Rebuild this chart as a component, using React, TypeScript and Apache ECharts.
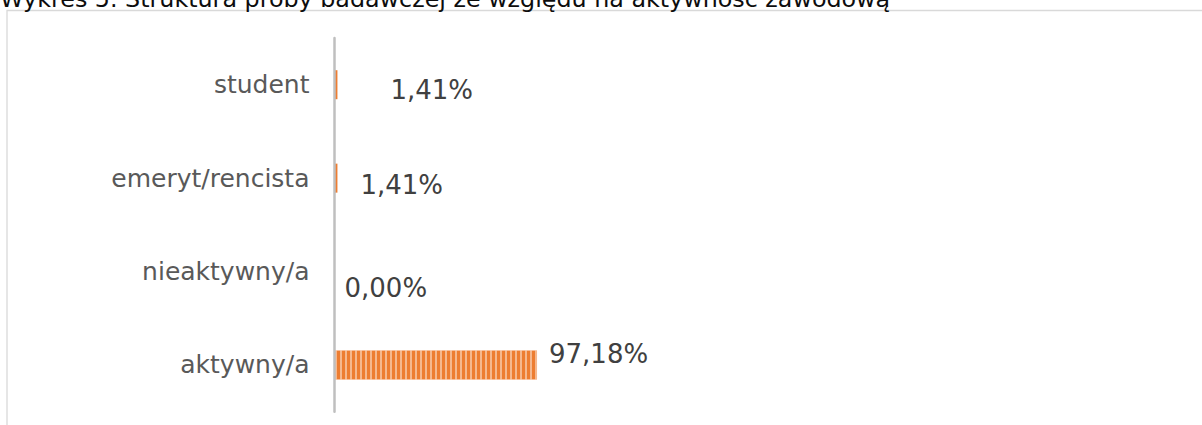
import React, { useEffect, useRef } from "react";
import * as echarts from "echarts";

const TITLE = "Wykres 5. Struktura próby badawczej ze względu na aktywność zawodową";
const categories = ["aktywny/a", "nieaktywny/a", "emeryt/rencista", "student"];
const values = [97.18, 0.0, 1.41, 1.41];
const valueLabels = ["97,18%", "0,00%", "1,41%", "1,41%"];
const labelOffsets: [number, number][] = [
  [7, -11],
  [5, 16],
  [18, 7],
  [48, 5],
];

export default function App() {
  const ref = useRef<HTMLDivElement>(null);
  useEffect(() => {
    if (!ref.current) return;
    const chart = echarts.init(ref.current, undefined, { renderer: "svg" });
    const font = "DejaVu Sans";
    const stripes = {
      symbol: "rect",
      symbolSize: 1,
      color: "rgba(255,255,255,0.45)",
      dashArrayX: [2, 2.3],
      dashArrayY: [10, 0],
      rotation: 0,
    };
    chart.setOption({
      animation: false,
      backgroundColor: "#ffffff",
      graphic: [
        {
          type: "rect",
          shape: { x: 7, y: 10.5, width: 1300, height: 500 },
          style: { fill: "none", stroke: "#d9d9d9", lineWidth: 1.3 },
          z: 0,
        },
        {
          type: "text",
          x: 0,
          y: -1.5,
          style: {
            text: TITLE,
            fontFamily: font,
            fontSize: 23.8,
            fill: "#0d0d0d",
            align: "left",
            verticalAlign: "middle",
          },
          z: 5,
        },
      ],
      grid: { left: 334.5, top: 38, width: 208.4, bottom: 13.3, containLabel: false },
      xAxis: {
        type: "value",
        min: 0,
        max: 100,
        show: false,
      },
      yAxis: {
        type: "category",
        data: categories,
        z: 10,
        axisLine: { show: true, lineStyle: { color: "#bfbfbf", width: 2.5 } },
        axisTick: { show: false },
        axisLabel: {
          margin: 25,
          fontFamily: font,
          fontSize: 25,
          color: "#595959",
        },
        splitLine: { show: false },
      },
      series: [
        {
          type: "bar",
          barWidth: 29,
          data: values.map((v, i) => ({
            value: v,
            itemStyle: v > 5 ? { color: "#ED7D31", decal: stripes } : { color: "#ED7D31" },
            label: {
              show: true,
              position: "right",
              distance: 5,
              offset: labelOffsets[i],
              formatter: valueLabels[i],
              fontFamily: font,
              fontSize: 26,
              color: "#404040",
            },
          })),
          itemStyle: {
            color: "#ED7D31",
          },
        },
      ],
    });
    return () => chart.dispose();
  }, []);
  return (
    <div
      ref={ref}
      style={{ position: "fixed", left: 0, top: 0, width: 1202, height: 425 }}
    />
  );
}
